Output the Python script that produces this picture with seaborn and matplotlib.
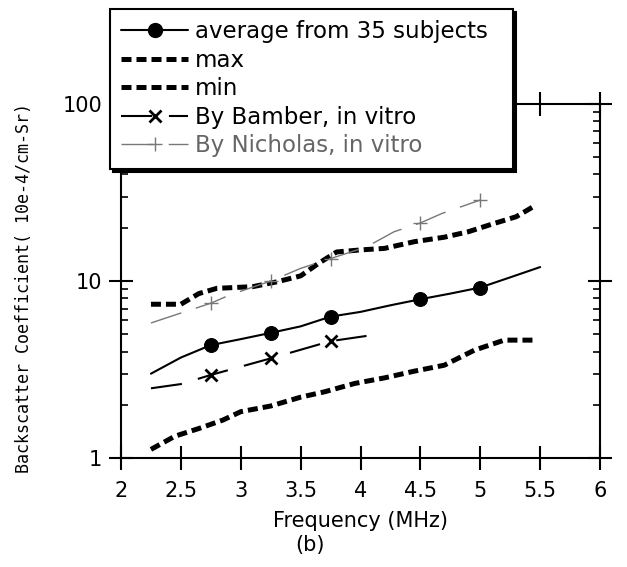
import matplotlib
matplotlib.use("Agg")
import matplotlib.pyplot as plt
import seaborn as sns
from matplotlib.lines import Line2D
from matplotlib.ticker import LogLocator, NullFormatter

AVG_FREQ = [2.25, 2.5, 2.75, 3.0, 3.25, 3.5, 3.75, 4.0, 4.25, 4.5, 4.75, 5.0, 5.25, 5.5]
AVG_VALUE = [3.0, 3.7, 4.35, 4.7, 5.1, 5.55, 6.3, 6.7, 7.3, 7.9, 8.5, 9.2, 10.5, 12.0]
AVG_MARKS = [2, 4, 6, 9, 11]

MAX_FREQ = [2.25, 2.5, 2.65, 2.8, 3.1, 3.3, 3.5, 3.65, 3.8, 4.0, 4.2, 4.45, 4.7, 4.9, 5.1, 5.3, 5.45]
MAX_VALUE = [7.4, 7.4, 8.5, 9.1, 9.3, 9.9, 10.7, 12.6, 14.6, 15.0, 15.3, 16.7, 17.7, 19.0, 21.0, 23.1, 26.5]

MIN_FREQ = [2.25, 2.45, 2.65, 2.85, 3.0, 3.25, 3.5, 3.7, 3.95, 4.2, 4.45, 4.7, 4.95, 5.2, 5.45]
MIN_VALUE = [1.12, 1.33, 1.47, 1.64, 1.83, 1.97, 2.21, 2.37, 2.64, 2.84, 3.1, 3.35, 4.07, 4.64, 4.64]

BAMBER_FREQ = [2.25, 2.5, 2.75, 3.25, 3.75, 4.05]
BAMBER_VALUE = [2.48, 2.62, 2.95, 3.66, 4.58, 4.9]
BAMBER_MARKS = [2, 3, 4]

NICH_FREQ = [2.25, 2.5, 2.75, 2.9, 3.07, 3.25, 3.5, 3.75, 4.05, 4.28, 4.5, 4.68, 5.0]
NICH_VALUE = [5.8, 6.6, 7.5, 8.3, 9.1, 10.0, 11.8, 13.4, 15.6, 19.0, 21.3, 24.1, 28.7]
NICH_MARKS = [2, 5, 7, 10, 12]

XTICKS = [2, 2.5, 3, 3.5, 4, 4.5, 5, 5.5, 6]
XTICK_LABELS = ["2", "2.5", "3", "3.5", "4", "4.5", "5", "5.5", "6"]
YTICKS = [1, 10, 100]
YTICK_LABELS = ["1", "10", "100"]

LABELS = ["average from 35 subjects", "max", "min",
          "By Bamber, in vitro", "By Nicholas, in vitro"]

GREY = "#777777"

sns.set_style("ticks")
plt.rcParams["font.family"] = ["DejaVu Sans"]
plt.rcParams.update({"text.color": "black", "axes.labelcolor": "black",
                     "xtick.color": "black", "ytick.color": "black"})

fig = plt.figure(figsize=(6.27, 5.67), dpi=100)
ax = fig.add_axes([0.193, 0.192, 0.764, 0.6245])

sns.lineplot(x=AVG_FREQ, y=AVG_VALUE, ax=ax, color="black", lw=1.5, marker="o",
             ms=10, mec="black", markevery=AVG_MARKS, errorbar=None)
sns.lineplot(x=MAX_FREQ, y=MAX_VALUE, ax=ax, color="black", lw=3.6,
             linestyle=(0, (2, 1)), errorbar=None)
sns.lineplot(x=MIN_FREQ, y=MIN_VALUE, ax=ax, color="black", lw=3.6,
             linestyle=(0, (2, 1)), errorbar=None)
sns.lineplot(x=BAMBER_FREQ, y=BAMBER_VALUE, ax=ax, color="black", lw=1.5,
             linestyle=(0, (15, 8)), marker="x", ms=9, mew=2, mec="black",
             markevery=BAMBER_MARKS, errorbar=None)
sns.lineplot(x=NICH_FREQ, y=NICH_VALUE, ax=ax, color=GREY, lw=1,
             linestyle=(0, (23, 11)), marker="+", ms=10, mew=1, mec=GREY,
             markevery=NICH_MARKS, errorbar=None)

ax.set_yscale("log")
ax.set_xlim(2, 6)
ax.set_ylim(1, 100)
ax.set_xticks(XTICKS)
ax.set_xticklabels(XTICK_LABELS)
ax.set_yticks(YTICKS)
ax.set_yticklabels(YTICK_LABELS)
ax.yaxis.set_minor_locator(LogLocator(base=10, subs=range(2, 10)))
ax.yaxis.set_minor_formatter(NullFormatter())

ax.tick_params(axis="both", which="major", direction="inout", length=17, width=1.5,
               top=True, right=True, labelsize=15, color="black")
ax.tick_params(axis="x", which="major", pad=8)
ax.tick_params(axis="y", which="major", pad=5)
ax.tick_params(axis="y", which="minor", direction="in", length=5, width=1.2,
               left=True, right=True)
for side in ax.spines.values():
    side.set_visible(True)
    side.set_linewidth(1.5)
    side.set_color("black")

ax.set_xlabel("Frequency (MHz)", fontsize=15, labelpad=7)
ax.set_ylabel("Backscatter Coefficient( 10e-4/cm-Sr)", fontsize=12,
              family=["DejaVu Sans Mono"])
ax.yaxis.set_label_coords(-0.184, 0.48)

handles = [
    Line2D([], [], color="black", lw=1.5, marker="o", ms=10),
    Line2D([], [], color="black", lw=3.6, linestyle=(0, (2, 1))),
    Line2D([], [], color="black", lw=3.6, linestyle=(0, (2, 1))),
    Line2D([], [], color="black", lw=1.5, linestyle=(0, (15, 8)), marker="x", ms=9, mew=2),
    Line2D([], [], color=GREY, lw=1, linestyle=(0, (23, 11)), marker="+", ms=10, mew=1),
]
leg = ax.legend(handles, LABELS, loc="upper left",
                bbox_to_anchor=(110 / 627, 1 - 168 / 567, 403 / 627, 159 / 567),
                bbox_transform=fig.transFigure, mode="expand", borderaxespad=0,
                fontsize=16.5, handlelength=2.9, handletextpad=0.3, labelspacing=0.24,
                borderpad=0.5, fancybox=False, edgecolor="black", framealpha=1,
                shadow={"color": "black", "alpha": 1}, numpoints=1)
leg.get_frame().set_linewidth(1.5)
leg.get_texts()[4].set_color("#666666")

fig.text(310 / 627, 1 - 545 / 567, "(b)", ha="center", va="center", fontsize=15)

fig.savefig("out.png", dpi=100)
